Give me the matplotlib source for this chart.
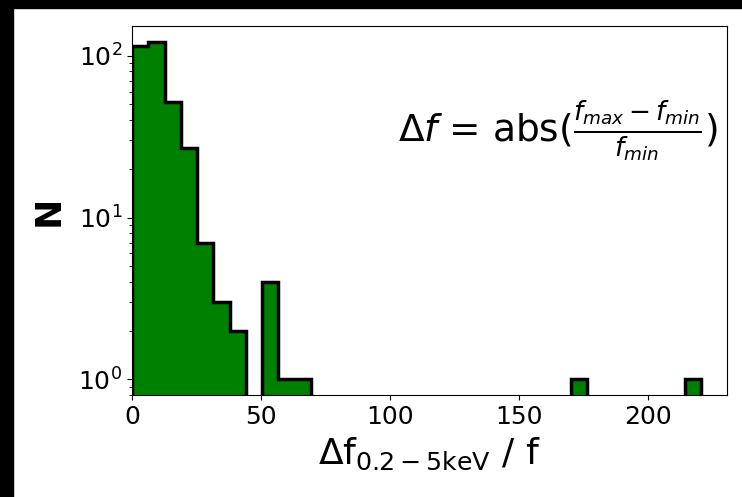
import numpy as np
import matplotlib
matplotlib.use('Agg')
import matplotlib.pyplot as plt
from matplotlib.patches import Rectangle

# histogram counts per bin (35 bins from 0 to ~220.5)
bin_lo = 0.0
bin_hi = 220.5
n_bins = 35
counts = [115, 121, 52, 27, 7, 3, 2, 0, 4, 1, 1,
          0, 0, 0, 0, 0, 0, 0, 0, 0, 0, 0, 0, 0, 0, 0, 0,
          1, 0, 0, 0, 0, 0, 0, 1]

edges = np.linspace(bin_lo, bin_hi, n_bins + 1)

fig = plt.figure(figsize=(7.42, 4.97), dpi=100)
ax = fig.add_axes([0.178, 0.205, 0.802, 0.743])

ax.hist(edges[:-1], bins=edges, weights=counts, histtype='stepfilled',
        facecolor='green', edgecolor='black', linewidth=2.5, log=True)

ax.set_xlim(0, 230.5)
ax.set_ylim(0.8, 153)
ax.tick_params(labelsize=18)
ax.set_xlabel(r'$\Delta$f$_{\rm 0.2-5keV}$ / f', fontsize=26, labelpad=5)
ax.set_ylabel('N', fontsize=26, fontweight='bold', labelpad=9)

ax.text(0.985, 0.715, r'$\Delta f$ = abs($\frac{f_{max}-f_{min}}{f_{min}}$)',
        transform=ax.transAxes, ha='right', va='center', fontsize=27)

# black strips at the top and left edge of the image
fig.patches.append(Rectangle((0, 1 - 8 / 497), 1, 8 / 497, transform=fig.transFigure,
                             color='black', zorder=-1))
fig.patches.append(Rectangle((0, 0), 13 / 742, 1, transform=fig.transFigure,
                             color='black', zorder=-1))

fig.savefig('out.png', dpi=100)
